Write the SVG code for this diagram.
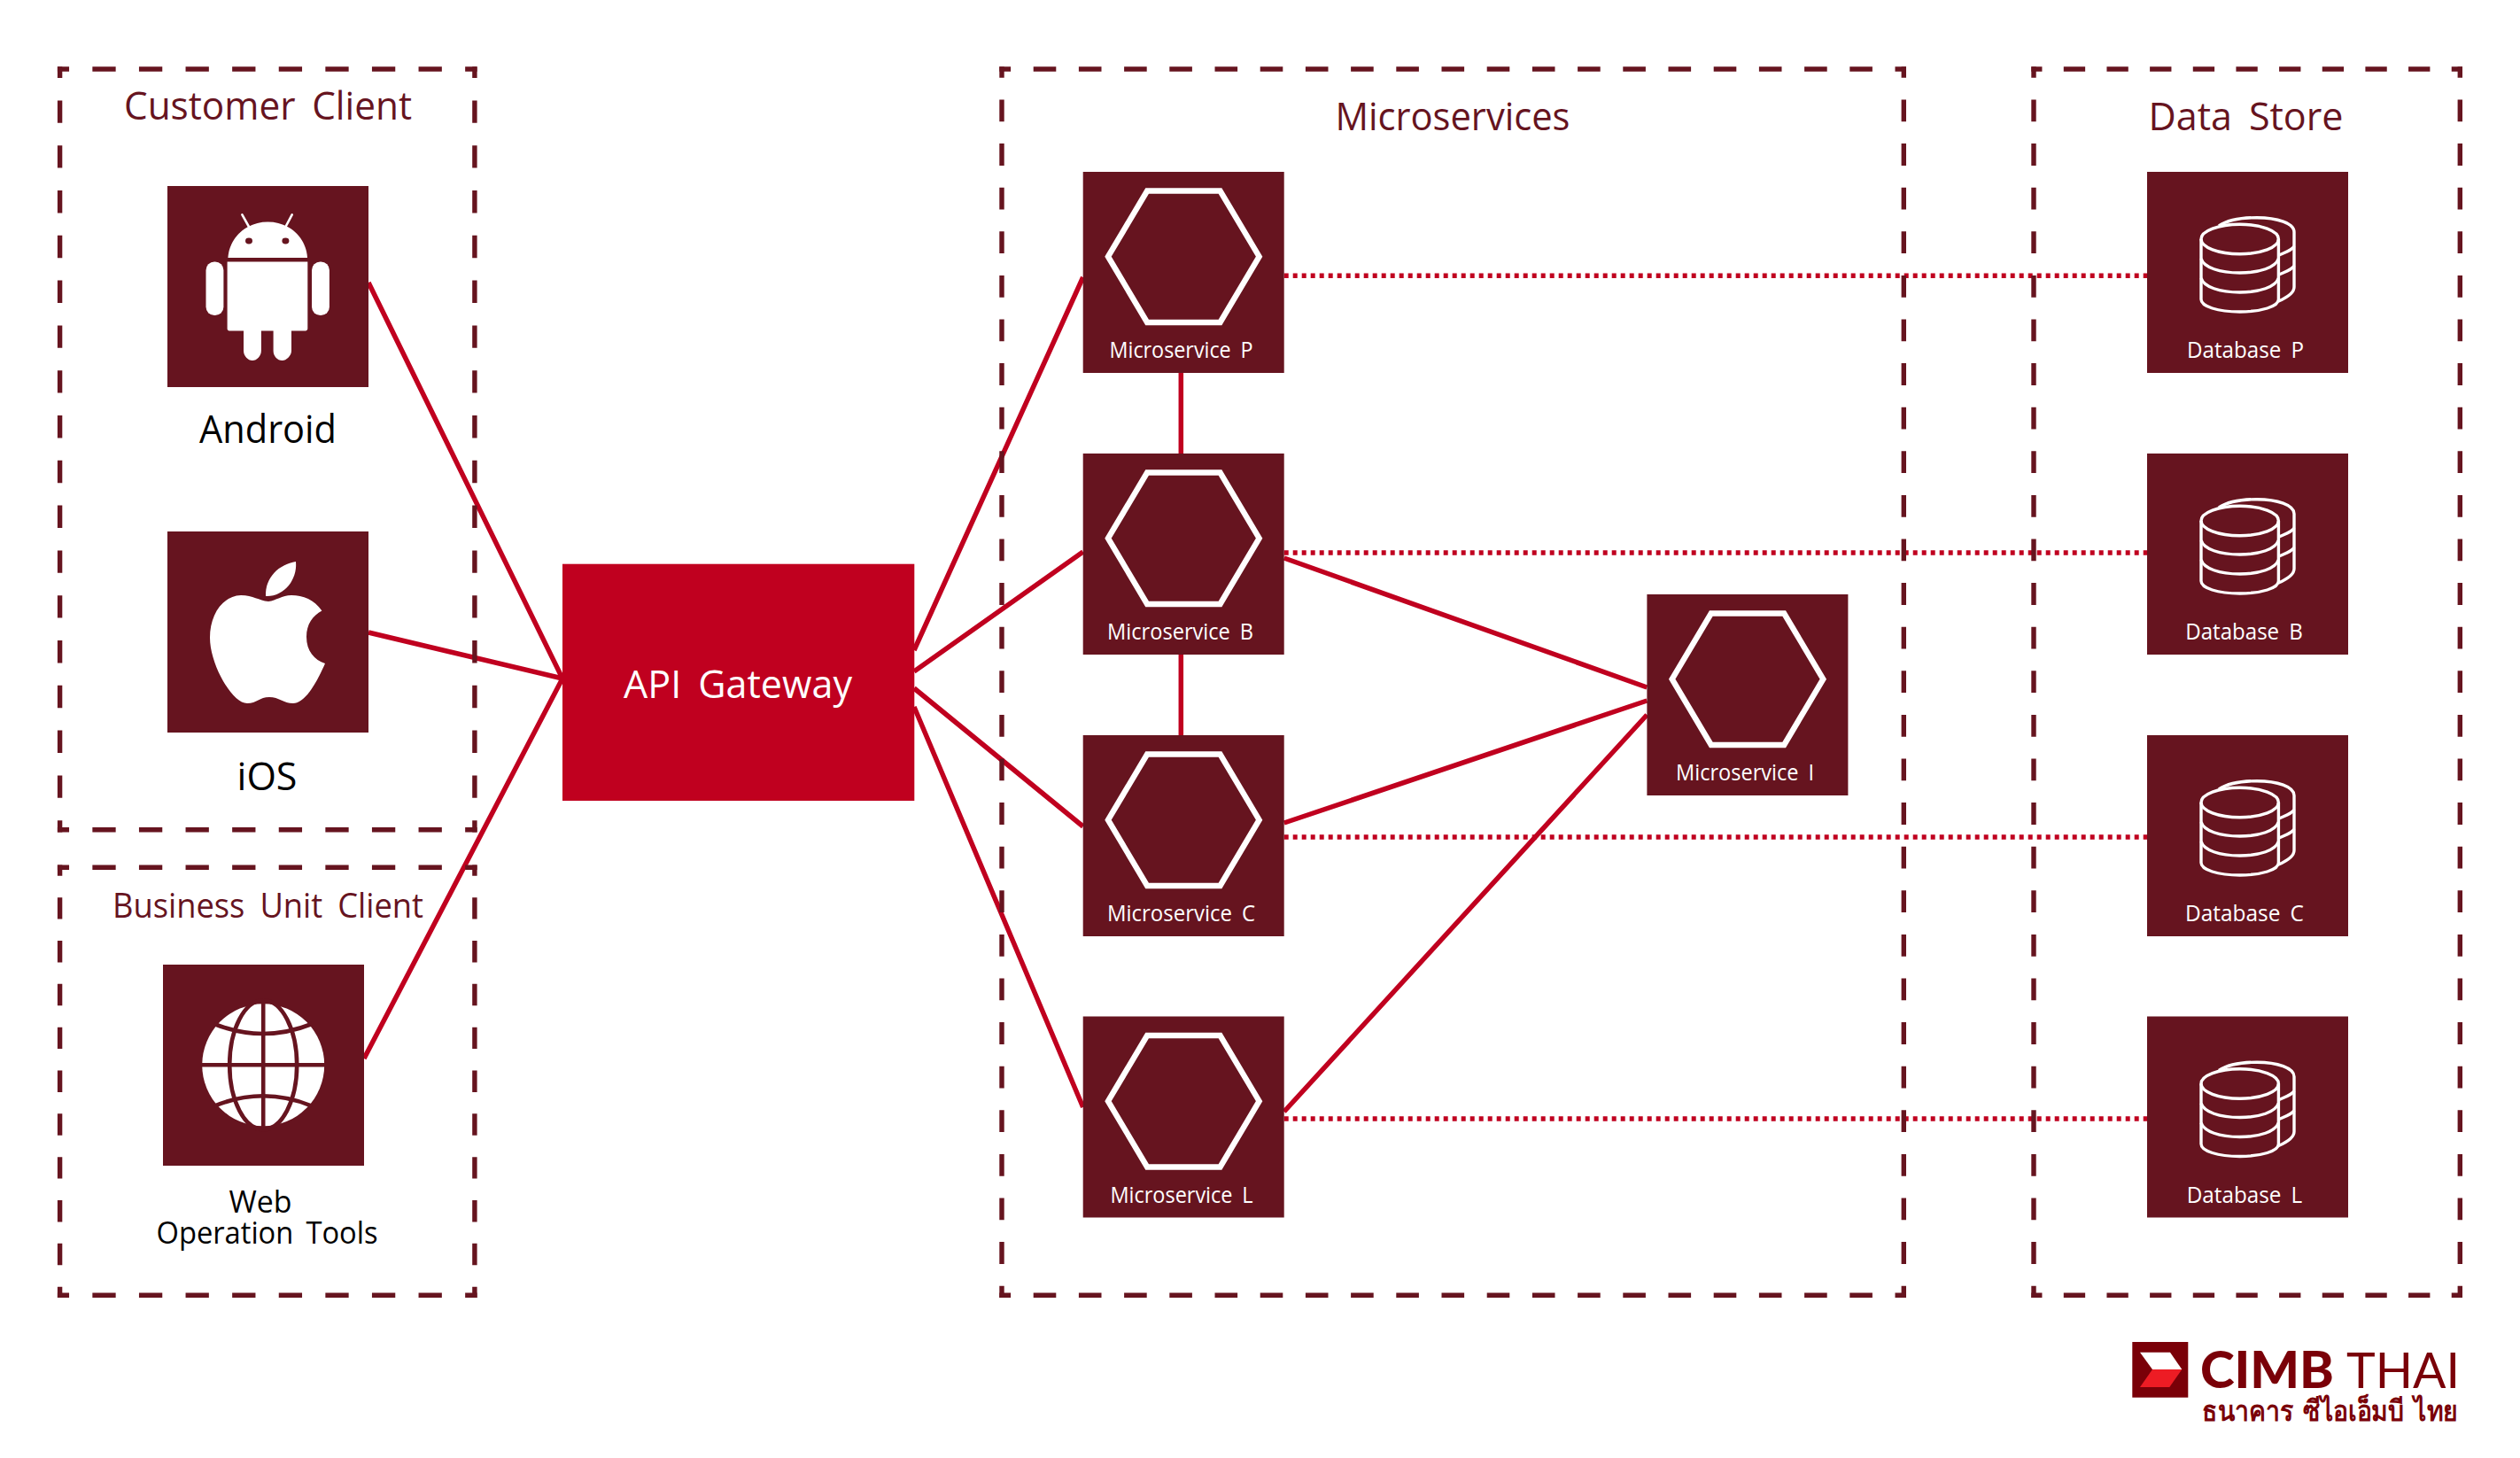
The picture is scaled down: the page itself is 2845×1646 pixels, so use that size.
<svg xmlns="http://www.w3.org/2000/svg" width="2845" height="1646" viewBox="0 0 2845 1646">
<style>
text{font-family:"Open Sans","Noto Sans","Noto Sans CJK SC",sans-serif;text-anchor:middle}
.box{fill:#66141f}
.tile{font-size:25px;fill:#fff;word-spacing:5px}
.head{font-size:44px;fill:#66141f;word-spacing:8px}
.lab{font-size:43px;fill:#000;word-spacing:6px}
.ln{stroke:#c0001f;stroke-width:5.5;fill:none}
.dot{stroke:#c0001f;stroke-width:5.5;fill:none;stroke-dasharray:5 5}
.dash{stroke:#66141f;stroke-width:5.4;fill:none}
.hex{fill:none;stroke:#fff;stroke-width:6.4}
.db{fill:none;stroke:#fff;stroke-width:3.4}
</style>
<defs>
<g id="hexa"><polygon class="hex" points="28.3,95.7 72.4,21.5 154.8,21.5 198.9,95.7 154.8,170 72.4,170"/></g>
<g id="dbi" class="db">
<ellipse cx="104.7" cy="76" rx="43.7" ry="16.7"/>
<path d="M61 76V144C61 152 80 158 104.7 158C129 158 148.4 152 148.4 144V76"/>
<path d="M61 98C64 108 82 114 104.7 114C127 114 145 108 148.4 98"/>
<path d="M61 120C64 130 82 136 104.7 136C127 136 145 130 148.4 120"/>
<path d="M81 61C90 55 106 51.7 124 51.7C147 51.7 166 58 166 68V130C166 136 160 141 148.4 146"/>
<path d="M166 84C164 88 158 90 149 94"/>
<path d="M166 106C164 110 158 112 149 116"/>
</g>
</defs>

<g id="connectors">
<path class="ln" d="M416 319L635 766M416 714L635 766M411 1195L635 766"/>
<path class="ln" d="M1032 734L1222.7 313M1032 758L1222.7 623M1032 777L1222.7 933M1032 798L1222.7 1250"/>
<path class="ln" d="M1333.3 421V512M1333.3 738V830"/>
<path class="ln" d="M1449.7 630L1859.4 776M1449.7 929L1859.4 791M1449.7 1255L1859.4 807"/>
<path class="dot" d="M1449.7 311.3H2424M1449.7 624H2424M1449.7 945H2424M1449.7 1263H2424"/>
</g>

<g id="group-customer">
<line class="dash" x1="64.9" y1="78" x2="538.6" y2="78" stroke-dasharray="26.3 26.3" stroke-dashoffset="13.15"/>
<line class="dash" x1="64.9" y1="936.7" x2="538.6" y2="936.7" stroke-dasharray="26.3 26.3" stroke-dashoffset="13.15"/>
<line class="dash" x1="67.6" y1="75.3" x2="67.6" y2="939.4" stroke-dasharray="25.4 25.4" stroke-dashoffset="12.7"/>
<line class="dash" x1="535.9" y1="75.3" x2="535.9" y2="939.4" stroke-dasharray="25.4 25.4" stroke-dashoffset="12.7"/>
<text class="head" x="302.5" y="135" textLength="325" lengthAdjust="spacingAndGlyphs">Customer Client</text>
</g>
<g id="group-business">
<line class="dash" x1="64.9" y1="979.2" x2="538.6" y2="979.2" stroke-dasharray="26.3 26.3" stroke-dashoffset="13.15"/>
<line class="dash" x1="64.9" y1="1462.3" x2="538.6" y2="1462.3" stroke-dasharray="26.3 26.3" stroke-dashoffset="13.15"/>
<line class="dash" x1="67.6" y1="976.5" x2="67.6" y2="1465" stroke-dasharray="24.42 24.42" stroke-dashoffset="12.21"/>
<line class="dash" x1="535.9" y1="976.5" x2="535.9" y2="1465" stroke-dasharray="24.42 24.42" stroke-dashoffset="12.21"/>
<text class="head" style="font-size:38px" x="302.5" y="1036" textLength="351" lengthAdjust="spacingAndGlyphs">Business Unit Client</text>
</g>
<g id="group-microservices">
<line class="dash" x1="1128.3" y1="78" x2="2152" y2="78" stroke-dasharray="25.6 25.6" stroke-dashoffset="12.8"/>
<line class="dash" x1="1128.3" y1="1462.3" x2="2152" y2="1462.3" stroke-dasharray="25.6 25.6" stroke-dashoffset="12.8"/>
<line class="dash" x1="1131" y1="75.3" x2="1131" y2="1465" stroke-dasharray="24.8 24.8" stroke-dashoffset="12.4"/>
<line class="dash" x1="2149.3" y1="75.3" x2="2149.3" y2="1465" stroke-dasharray="24.8 24.8" stroke-dashoffset="12.4"/>
<text class="head" x="1640" y="147" textLength="265" lengthAdjust="spacingAndGlyphs">Microservices</text>
</g>
<g id="group-datastore">
<line class="dash" x1="2293.3" y1="78" x2="2780" y2="78" stroke-dasharray="24.33 24.33" stroke-dashoffset="12.17"/>
<line class="dash" x1="2293.3" y1="1462.3" x2="2780" y2="1462.3" stroke-dasharray="24.33 24.33" stroke-dashoffset="12.17"/>
<line class="dash" x1="2296" y1="75.3" x2="2296" y2="1465" stroke-dasharray="24.8 24.8" stroke-dashoffset="12.4"/>
<line class="dash" x1="2777.3" y1="75.3" x2="2777.3" y2="1465" stroke-dasharray="24.8 24.8" stroke-dashoffset="12.4"/>
<text class="head" x="2535.5" y="147" textLength="220" lengthAdjust="spacingAndGlyphs">Data Store</text>
</g>

<g id="android">
<rect class="box" x="189" y="210" width="227" height="227"/>
<g fill="#fff">
<path d="M257.4 291C259 268 278 250.5 302.4 250.5C327 250.5 345.5 268 347 291Z"/>
<path d="M256.6 295.5H347.3V371C347.3 372.5 346 373.5 345 373.5H329V396C329 402 323 407 318.8 407C313 407 308.6 402 308.6 396V373.5H294.9V396C294.9 402 290 407 285 407C280 407 275 402 275 396V373.5H259C257.5 373.5 256.6 372.5 256.6 371Z"/>
<rect x="232.5" y="295.5" width="19.9" height="60.5" rx="9.5"/>
<rect x="352" y="295.5" width="19.9" height="60.5" rx="9.5"/>
</g>
<ellipse cx="281" cy="272" rx="4" ry="3.4" fill="#66141f"/>
<ellipse cx="322.4" cy="272" rx="4" ry="3.4" fill="#66141f"/>
<path d="M273.4 242.4L281 256M329.7 242.4L322.4 256" stroke="#fff" stroke-width="2.6" stroke-linecap="round"/>
<text class="lab" x="302.5" y="500" textLength="155" lengthAdjust="spacingAndGlyphs">Android</text>
</g>

<g id="ios">
<rect class="box" x="189" y="600" width="227" height="227"/>
<g fill="#fff">
<path d="M303 679C292 678 286 672 272 672C250 673 237 695 237 720C237 750 262 794 279 794C290 794 293 787 304 787C315 787 320 794 331 794C346 794 360 765 367 749C355 745 346 735 346 719C346 705 353 695 363.4 689.6C355 677 342 672 329 672C318 672 312 678 303 679Z"/>
<path d="M334 634C336 655 320 674 300 673C299 652 315 637 334 634Z"/>
</g>
<text class="lab" x="301.5" y="892">iOS</text>
</g>

<g id="web">
<rect class="box" x="184" y="1089" width="227" height="227"/>
<circle cx="297.2" cy="1202.3" r="69" fill="#fff"/>
<g fill="none" stroke="#66141f" stroke-width="4.6">
<path d="M297.2 1130V1274M226 1202.3H368"/>
<ellipse cx="297.2" cy="1202.3" rx="38" ry="73"/>
<path d="M242 1156Q297 1178 352 1156M242 1248.6Q297 1226 352 1248.6"/>
</g>
<text class="lab" style="font-size:35px" x="294" y="1369" textLength="71" lengthAdjust="spacingAndGlyphs">Web</text>
<text class="lab" style="font-size:35px" x="301.5" y="1403.5" textLength="250" lengthAdjust="spacingAndGlyphs">Operation Tools</text>
</g>

<g id="api-gateway">
<rect x="635" y="636.7" width="397.3" height="267.3" fill="#c0001f"/>
<text x="833" y="788" textLength="258" lengthAdjust="spacingAndGlyphs" style="font-size:44px;fill:#fff;word-spacing:8px">API Gateway</text>
</g>

<g id="ms-p"><rect class="box" x="1222.7" y="194" width="227" height="227"/><use href="#hexa" x="1222.7" y="194"/><text class="tile" x="1333.5" y="404" textLength="162" lengthAdjust="spacingAndGlyphs">Microservice P</text></g>
<g id="ms-b"><rect class="box" x="1222.7" y="512" width="227" height="227"/><use href="#hexa" x="1222.7" y="512"/><text class="tile" x="1332.5" y="722" textLength="165" lengthAdjust="spacingAndGlyphs">Microservice B</text></g>
<g id="ms-c"><rect class="box" x="1222.7" y="830" width="227" height="227"/><use href="#hexa" x="1222.7" y="830"/><text class="tile" x="1333.5" y="1040" textLength="167" lengthAdjust="spacingAndGlyphs">Microservice C</text></g>
<g id="ms-l"><rect class="box" x="1222.7" y="1147.5" width="227" height="227"/><use href="#hexa" x="1222.7" y="1147.5"/><text class="tile" x="1334" y="1357.5" textLength="161" lengthAdjust="spacingAndGlyphs">Microservice L</text></g>
<g id="ms-i"><rect class="box" x="1859.4" y="671" width="227" height="227"/><use href="#hexa" x="1859.4" y="671"/><text class="tile" x="1970" y="881" textLength="156" lengthAdjust="spacingAndGlyphs">Microservice I</text></g>

<g id="db-p"><rect class="box" x="2424" y="194" width="227" height="227"/><use href="#dbi" x="2424" y="194"/><text class="tile" x="2535" y="404" textLength="132" lengthAdjust="spacingAndGlyphs">Database P</text></g>
<g id="db-b"><rect class="box" x="2424" y="512" width="227" height="227"/><use href="#dbi" x="2424" y="512"/><text class="tile" x="2533.5" y="722" textLength="132.5" lengthAdjust="spacingAndGlyphs">Database B</text></g>
<g id="db-c"><rect class="box" x="2424" y="830" width="227" height="227"/><use href="#dbi" x="2424" y="830"/><text class="tile" x="2534" y="1040" textLength="134" lengthAdjust="spacingAndGlyphs">Database C</text></g>
<g id="db-l"><rect class="box" x="2424" y="1147.5" width="227" height="227"/><use href="#dbi" x="2424" y="1147.5"/><text class="tile" x="2534" y="1357.5" textLength="130.5" lengthAdjust="spacingAndGlyphs">Database L</text></g>

<g id="logo">
<rect x="2407.3" y="1515" width="63" height="62.7" fill="#7a0008"/>
<polygon points="2416,1526.7 2450,1526.7 2463.3,1546 2430,1546" fill="#fff"/>
<polygon points="2430,1546 2463.3,1546 2449.3,1566 2416,1566" fill="#ed1c24"/>
<text x="2484" y="1566.7" textLength="151" lengthAdjust="spacingAndGlyphs" style="text-anchor:start;font-family:Lato,'Liberation Sans',sans-serif;font-weight:900;font-size:57px;fill:#7a0008">CIMB</text>
<text x="2649" y="1566.7" textLength="128" lengthAdjust="spacingAndGlyphs" style="text-anchor:start;font-family:Lato,'Liberation Sans',sans-serif;font-weight:400;font-size:57px;fill:#7a0008">THAI</text>
<text x="2486" y="1604" textLength="289" lengthAdjust="spacingAndGlyphs" style="text-anchor:start;font-family:'Noto Sans','DejaVu Sans','Noto Sans CJK SC',sans-serif;font-weight:600;font-size:32px;word-spacing:5px;fill:#7a0008">ธนาคาร ซีไอเอ็มบี ไทย</text>
</g>
</svg>
